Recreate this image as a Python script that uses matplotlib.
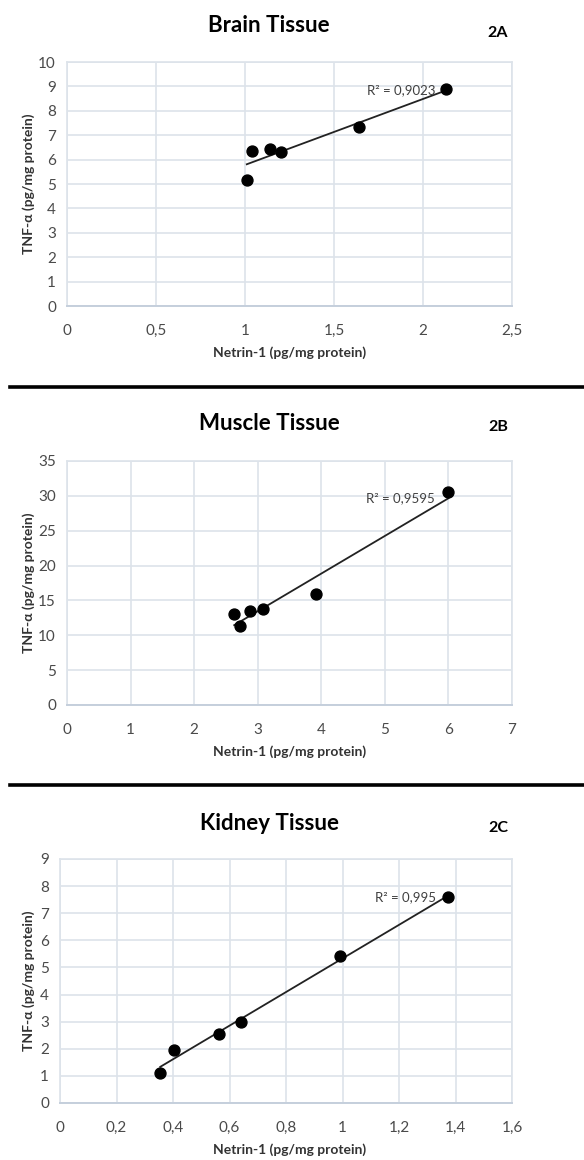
import matplotlib.pyplot as plt
from matplotlib.lines import Line2D
from matplotlib.ticker import FuncFormatter
import numpy as np

plt.rcParams['font.family'] = ['Lato', 'DejaVu Sans']

# Brain tissue (2A)
brain_netrin = [1.01, 1.04, 1.14, 1.20, 1.64, 2.13]
brain_tnf = [5.15, 6.37, 6.45, 6.33, 7.35, 8.88]

# Muscle tissue (2B)
muscle_netrin = [2.63, 2.72, 2.88, 3.09, 3.92, 6.00]
muscle_tnf = [13.1, 11.3, 13.5, 13.8, 15.9, 30.6]

# Kidney tissue (2C)
kidney_netrin = [0.355, 0.405, 0.563, 0.64, 0.992, 1.375]
kidney_tnf = [1.12, 1.96, 2.55, 2.98, 5.44, 7.59]

titles = ['Brain Tissue', 'Muscle Tissue', 'Kidney Tissue']
tags = ['2A', '2B', '2C']
r2_labels = ['R\u00b2 = 0,9023', 'R\u00b2 = 0,9595', 'R\u00b2 = 0,995']
xlims = [(0, 2.5), (0, 7), (0, 1.6)]
xsteps = [0.5, 1, 0.2]
ylims = [(0, 10), (0, 35), (0, 9)]
ysteps = [1, 5, 1]
r2_pos = [(2.07, 8.85), (5.79, 29.6), (1.33, 7.6)]

W, H = 584, 1160
fig = plt.figure(figsize=(W / 100, H / 100), dpi=100)

# axes boxes in pixels: left, right, top, bottom
boxes = [(67, 512, 62, 306), (67, 512, 461, 705), (60, 512, 859, 1103)]
title_y = [25, 423, 823]
tag_y = [33, 427, 828]

datasets = [(brain_netrin, brain_tnf), (muscle_netrin, muscle_tnf),
            (kidney_netrin, kidney_tnf)]

comma = FuncFormatter(lambda v, p: ('%g' % round(v, 3)).replace('.', ','))

for i, (xs, ys) in enumerate(datasets):
    l, r, t, b = boxes[i]
    ax = fig.add_axes([l / W, 1 - b / H, (r - l) / W, (b - t) / H])
    xs = np.array(xs)
    ys = np.array(ys)
    ax.scatter(xs, ys, s=62, color='black', zorder=3)
    k, c = np.polyfit(xs, ys, 1)
    xx = np.array([xs.min(), xs.max()])
    ax.plot(xx, k * xx + c, color='#222222', lw=1.3, zorder=2)
    ax.text(r2_pos[i][0], r2_pos[i][1], r2_labels[i], ha='right', va='center',
            fontsize=9.5, color='#404040', zorder=4)

    ax.set_xlim(*xlims[i])
    ax.set_ylim(*ylims[i])
    ax.set_xticks(np.arange(xlims[i][0], xlims[i][1] + 1e-9, xsteps[i]))
    ax.set_yticks(np.arange(ylims[i][0], ylims[i][1] + 1e-9, ysteps[i]))
    ax.xaxis.set_major_formatter(comma)
    ax.yaxis.set_major_formatter(comma)
    ax.grid(True, color='#dde3ea', lw=1.2)
    ax.set_axisbelow(True)
    for s in ['top', 'right', 'left']:
        ax.spines[s].set_color('#dde3ea')
        ax.spines[s].set_linewidth(1.2)
    ax.spines['bottom'].set_color('#c5cfdc')
    ax.spines['bottom'].set_linewidth(1.4)
    ax.tick_params(length=0, labelsize=11, labelcolor='#4a4a4a')
    ax.tick_params(axis='x', pad=13)
    ax.tick_params(axis='y', pad=8)

    ax.set_ylabel('TNF-\u03b1 (pg/mg protein)', fontsize=10, fontweight='bold',
                  color='#333333')
    ax.yaxis.set_label_coords((35 - l) / (r - l), 0.5)
    ax.set_xlabel('Netrin-1 (pg/mg protein)', fontsize=10, fontweight='bold',
                  color='#333333')
    ax.xaxis.set_label_coords((290 - l) / (r - l), -0.165)

    fig.text(269 / W, 1 - title_y[i] / H, titles[i], ha='center', va='center',
             fontsize=16, fontweight='bold', color='black')
    fig.text(498 / W, 1 - tag_y[i] / H, tags[i], ha='center', va='center',
             fontsize=11.5, fontweight='bold', color='black')

# separator lines between panels
for yy in [387, 785]:
    fig.add_artist(Line2D([10 / W, 1], [1 - yy / H, 1 - yy / H],
                          transform=fig.transFigure, color='black', lw=2.6))

fig.savefig('out.png', dpi=100)
